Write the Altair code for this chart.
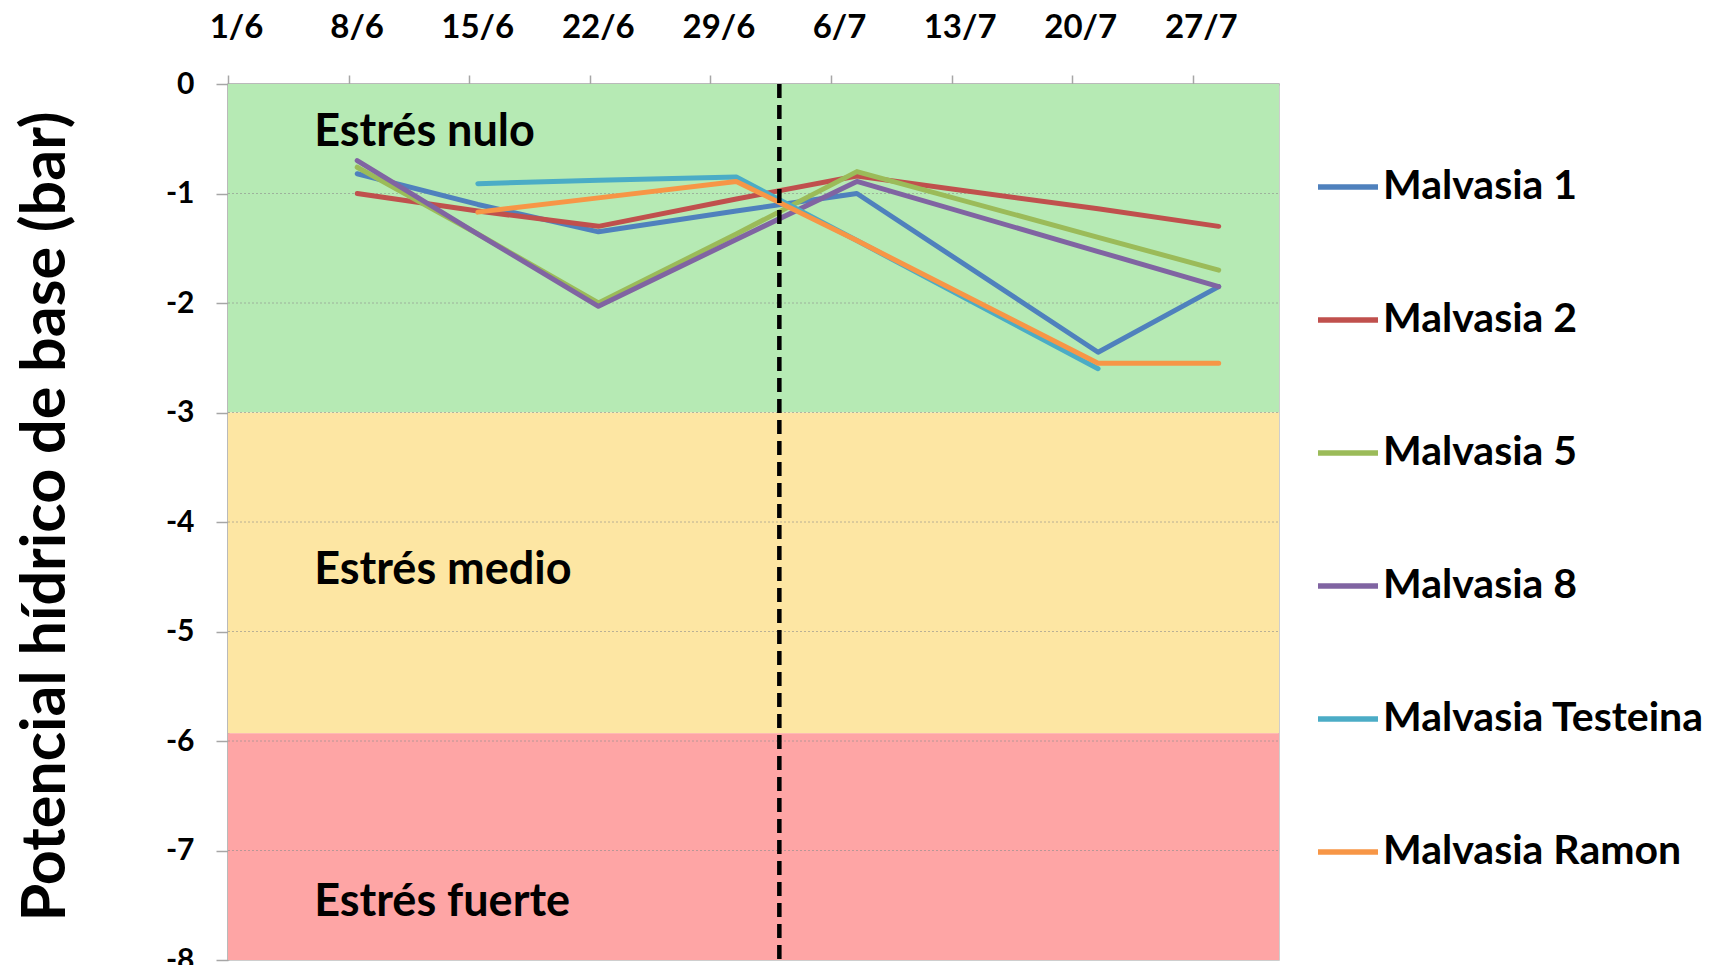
import altair as alt
import pandas as pd

# ---------------- data ----------------
dates = ["2013-06-08T12:00", "2013-06-15T12:00", "2013-06-22T12:00", "2013-06-30T12:00",
         "2013-07-07T12:00", "2013-07-21T12:00", "2013-07-28T12:00"]
series_names = ["Malvasia 1", "Malvasia 2", "Malvasia 5", "Malvasia 8",
                "Malvasia Testeina", "Malvasia Ramon"]
malvasia_1 = [-0.82, -1.10, -1.35, -1.16, -1.00, -2.45, -1.85]
malvasia_2 = [-1.00, -1.16, -1.30, -1.05, -0.84, -1.14, -1.30]
malvasia_5 = [-0.76, -1.37, -2.00, -1.37, -0.80, -1.40, -1.70]
malvasia_8 = [-0.70, -1.37, -2.03, -1.42, -0.89, -1.53, -1.85]
malvasia_testeina = [None, -0.91, -0.88, -0.85, -1.43, -2.60, None]
malvasia_ramon = [None, -1.17, -1.04, -0.89, -1.43, -2.55, -2.55]
series_colors = ["#4F81BD", "#C0504D", "#9BBB59", "#8064A2", "#4BACC6", "#F79646"]

tick_dates = ["2013-06-01", "2013-06-08", "2013-06-15", "2013-06-22", "2013-06-29",
              "2013-07-06", "2013-07-13", "2013-07-20", "2013-07-27"]
x_domain = ["2013-06-01", "2013-08-01"]
y_ticks = [0, -1, -2, -3, -4, -5, -6, -7, -8]

band_labels = ["Estrés nulo", "Estrés medio", "Estrés fuerte"]
band_top = [0, -3, -5.93]
band_bottom = [-3, -5.93, -8]
band_colors = ["#B6EAB4", "#FDE6A3", "#FEA5A5"]
band_text_y = [-0.44, -4.44, -7.47]
band_text_date = "2013-06-06"

event_date = "2013-07-03"

# ---------------- tables ----------------
all_vals = [malvasia_1, malvasia_2, malvasia_5, malvasia_8, malvasia_testeina, malvasia_ramon]
rows = []
for name, vals in zip(series_names, all_vals):
    for d, v in zip(dates, vals):
        if v is not None:
            rows.append({"serie": name, "fecha": d, "valor": v})
lines_df = pd.DataFrame(rows)

bands_df = pd.DataFrame({
    "zona": band_labels, "top": band_top, "bottom": band_bottom,
    "x0": [x_domain[0]] * 3, "x1": [x_domain[1]] * 3,
})
band_text_df = pd.DataFrame({"zona": band_labels, "y": band_text_y,
                             "fecha": [band_text_date] * 3})
grid_df = pd.DataFrame({"y": y_ticks[1:-1], "x0": [x_domain[0]] * 7, "x1": [x_domain[1]] * 7})
event_df = pd.DataFrame({"fecha": [event_date], "y0": [0], "y1": [-8]})

W, H = 1051, 876
FONT = "Lato"

x_scale = alt.Scale(domain=x_domain)
y_scale = alt.Scale(domain=[-8, 0], nice=False)

bands = alt.Chart(bands_df).mark_rect().encode(
    x=alt.X("x0:T", scale=x_scale,
            axis=alt.Axis(orient="top", values=tick_dates, format="%-d/%-m", title=None,
                          labelFont=FONT, labelFontSize=33, labelFontWeight="bold",
                          labelColor="#000000", labelOffset=8, labelPadding=31,
                          tickSize=9, tickColor="#A6A6A6", tickWidth=1.5,
                          domainColor="#A6A6A6", domainWidth=2, grid=False,
                          labelFlush=False, labelOverlap=False)),
    x2="x1:T",
    y=alt.Y("top:Q", scale=y_scale,
            axis=alt.Axis(values=y_ticks, title="Potencial hídrico de base (bar)",
                          labelExpr="'' + datum.value",
                          labelFont=FONT, labelFontSize=30, labelFontWeight="bold",
                          labelColor="#000000", labelPadding=22, tickSize=12,
                          tickColor="#A6A6A6", tickWidth=1.5, domainColor="#A6A6A6",
                          domainWidth=2, grid=False, labelFlush=False,
                          titleFont=FONT, titleFontSize=61, titleFontWeight="bold",
                          titleColor="#000000", titleAngle=270, titleX=-182, titleY=432,
                          titleAlign="center", titleBaseline="middle")),
    y2="bottom:Q",
    color=alt.Color("zona:N", scale=alt.Scale(domain=band_labels, range=band_colors),
                    legend=None),
)

grid = alt.Chart(grid_df).mark_rule(color="#8C8C8C", strokeWidth=1, strokeDash=[2, 2],
                                    opacity=0.6).encode(
    x=alt.X("x0:T", scale=x_scale), x2="x1:T", y=alt.Y("y:Q", scale=y_scale))

texts = alt.Chart(band_text_df).mark_text(
    align="left", baseline="middle", font=FONT, fontSize=45, fontWeight="bold",
    color="#000000").encode(
    x=alt.X("fecha:T", scale=x_scale), y=alt.Y("y:Q", scale=y_scale), text="zona:N")

lines = alt.Chart(lines_df).mark_line(strokeWidth=5, strokeCap="round",
                                      strokeJoin="round").encode(
    x=alt.X("fecha:T", scale=x_scale),
    y=alt.Y("valor:Q", scale=y_scale),
    stroke=alt.Stroke("serie:N",
                      scale=alt.Scale(domain=series_names, range=series_colors),
                      legend=alt.Legend(title=None, orient="none", legendX=1087, legendY=70,
                                        symbolType="stroke", symbolSize=3600,
                                        symbolStrokeWidth=5.5, labelFont=FONT,
                                        labelFontSize=41, labelFontWeight="bold",
                                        labelColor="#000000", labelOffset=2,
                                        rowPadding=80, padding=0, labelLimit=400)),
)

event = alt.Chart(event_df).mark_rule(color="#000000", strokeWidth=4.5,
                                      strokeDash=[14, 7]).encode(
    x=alt.X("fecha:T", scale=x_scale), y=alt.Y("y0:Q", scale=y_scale), y2="y1:Q")

chart = alt.layer(bands, grid, texts, lines, event).resolve_scale(
    color="independent", stroke="independent"
).properties(
    width=W, height=H,
    autosize=alt.AutoSizeParams(type="none"),
    padding={"left": 220, "top": 76, "right": 435, "bottom": 5},
).configure_view(stroke="#BFBFBF", strokeWidth=1.5)

chart.save("out.html", embed_options={"renderer": "svg", "actions": False})
